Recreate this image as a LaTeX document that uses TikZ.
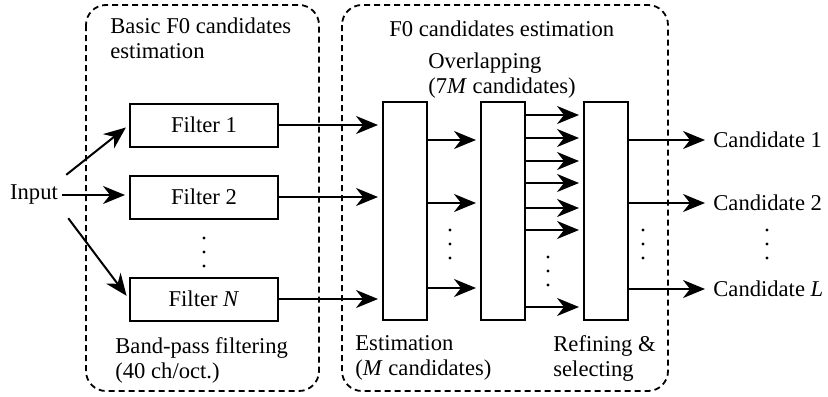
\documentclass[tikz,border=0pt]{standalone}
\usepackage{fontspec}
\setmainfont{Liberation Serif}
\usetikzlibrary{arrows.meta}
\tikzset{
  filterbox/.style={draw, line width=1pt, minimum width=74pt, minimum height=21.5pt, inner sep=0pt},
  tallbox/.style={draw, line width=1pt, minimum width=22pt, minimum height=109pt, inner sep=0pt},
  groupbox/.style={draw, dash pattern=on 3pt off 2pt, line width=0.9pt, rounded corners=10pt},
  arr/.style={-{Stealth[length=11pt,width=9pt,inset=3.5pt]}, line width=1pt, shorten >=2pt},
  lbl/.style={anchor=north west, inner sep=0pt, align=left},
  cand/.style={anchor=west, inner sep=2pt}
}
\begin{document}
\begin{tikzpicture}[x=0.5pt,y=-0.5pt,font=\fontsize{11.3}{12.5}\selectfont]
    \useasboundingbox (0,0) rectangle (828,396);

    \draw[groupbox] (86,5) rectangle (319,391);
    \draw[groupbox] (342,5) rectangle (668,391);

    \node[lbl] (basic) at (110,17) {Basic F0 candidates\\estimation};
    \node[lbl] (bandpass) at (115,337) {Band-pass filtering\\(40 ch/oct.)};
    \node[lbl] (f0est) at (389,20) {F0 candidates estimation};
    \node[lbl] (overlap) at (428,52) {Overlapping\\(7\textit{M} candidates)};
    \node[lbl] (estlbl) at (355,335) {Estimation\\(\textit{M} candidates)};
    \node[lbl] (reflbl) at (553,335) {Refining \&\\selecting};

    \node[inner sep=2pt] (input) at (34,195) {Input};

    \node[filterbox] (f1) at (204,125) {Filter 1};
    \node[filterbox] (f2) at (204,197) {Filter 2};
    \node[filterbox] (fN) at (204,299) {Filter \textit{N}};

    \draw[arr] ([shift={(4,-6)}]input.north east) -- (f1.west);
    \draw[arr] (input.east) -- (input.east -| f2.west);
    \draw[arr] ([shift={(6,9)}]input.south east) -- (fN.west);

    \node[tallbox] (est) at (405,211) {};
    \node[tallbox] (ovl) at (503,211) {};
    \node[tallbox] (ref) at (606,211) {};

    \foreach \f in {f1,f2,fN}
        \draw[arr] (\f.east) -- (\f.east -| est.west);

    \foreach \y in {140,203,288}
        \draw[arr] (est.east |- 0,\y) -- (ovl.west |- 0,\y);

    \foreach \y in {115,138,161,183,208,230,307}
        \draw[arr] (ovl.east |- 0,\y) -- (ref.west |- 0,\y);

    \node[cand] (c1) at (709,140) {Candidate 1};
    \node[cand] (c2) at (709,203) {Candidate 2};
    \node[cand] (cL) at (709,289) {Candidate \textit{L}};

    \foreach \c in {c1,c2,cL}
        \draw[arr] (ref.east |- \c.west) -- (\c.west);

    \foreach \x/\ya in {204/238,450/230,548/257,643/230,767/230}
        \foreach \d in {0,14,28}
            \fill (\x,\ya+\d) circle (0.8pt);
\end{tikzpicture}
\end{document}
